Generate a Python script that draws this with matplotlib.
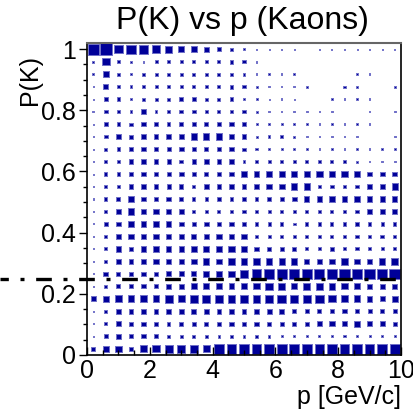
import numpy as np
import matplotlib
matplotlib.use("Agg")
import matplotlib.pyplot as plt
from matplotlib.patches import Rectangle
from matplotlib.collections import PatchCollection
import matplotlib.transforms as mtransforms

plt.rcParams['font.family'] = ['Liberation Sans', 'DejaVu Sans']

# histogram binning: 25 bins in p, 25 bins in P(K)
p_edges = np.linspace(0, 10, 26)
pk_edges = np.linspace(0, 1.02, 26)
cut_value = 0.25

# bin contents, rows listed from the top P(K) bin down to the bottom one
counts_top_down = [
    [847, 1008, 448, 567, 567, 448, 343, 252, 212, 142, 86, 44, 16, 7, 7, 7, 7, 0, 7, 7, 7, 7, 7, 7, 7],
    [16, 343, 44, 16, 16, 63, 63, 63, 63, 63, 63, 86, 63, 16, 0, 0, 0, 0, 0, 0, 0, 0, 0, 0, 0],
    [16, 212, 44, 16, 44, 63, 63, 63, 63, 63, 63, 63, 44, 16, 16, 16, 16, 0, 0, 0, 0, 16, 16, 0, 0],
    [7, 142, 63, 44, 63, 63, 63, 63, 63, 63, 63, 86, 63, 28, 16, 16, 16, 28, 0, 0, 28, 28, 0, 0, 28],
    [7, 112, 86, 28, 63, 63, 63, 86, 112, 63, 63, 86, 44, 28, 7, 16, 7, 0, 0, 28, 16, 16, 16, 0, 0],
    [16, 86, 86, 44, 175, 44, 63, 86, 86, 63, 63, 63, 63, 28, 16, 16, 16, 16, 16, 16, 0, 0, 16, 0, 16],
    [7, 86, 86, 63, 112, 142, 86, 112, 112, 86, 112, 142, 86, 28, 28, 28, 28, 16, 16, 16, 16, 16, 16, 0, 0],
    [7, 86, 175, 112, 142, 142, 142, 175, 252, 252, 252, 175, 142, 28, 44, 44, 28, 16, 16, 16, 16, 16, 0, 0, 16],
    [7, 63, 86, 112, 112, 112, 112, 142, 112, 112, 112, 142, 63, 44, 28, 28, 28, 28, 16, 16, 16, 16, 16, 16, 16],
    [7, 63, 63, 112, 112, 112, 112, 86, 112, 142, 112, 142, 44, 44, 63, 63, 63, 63, 86, 63, 63, 28, 16, 16, 16],
    [7, 63, 86, 112, 112, 112, 112, 142, 86, 86, 112, 112, 212, 212, 212, 252, 252, 252, 252, 252, 252, 175, 142, 142, 142],
    [7, 63, 63, 142, 112, 112, 112, 112, 63, 142, 142, 142, 142, 212, 212, 212, 252, 252, 86, 86, 86, 86, 142, 142, 252],
    [7, 63, 112, 212, 142, 142, 142, 112, 63, 63, 86, 86, 63, 63, 112, 112, 142, 175, 175, 175, 175, 212, 212, 175, 175],
    [7, 63, 142, 252, 175, 175, 142, 142, 63, 63, 63, 63, 63, 63, 63, 63, 63, 63, 63, 63, 63, 63, 142, 175, 175],
    [7, 86, 142, 212, 212, 175, 175, 142, 112, 142, 112, 112, 86, 63, 63, 63, 44, 63, 63, 63, 63, 63, 63, 63, 63],
    [7, 63, 142, 175, 175, 175, 175, 175, 175, 175, 212, 175, 175, 63, 63, 63, 63, 63, 63, 63, 63, 63, 63, 86, 63],
    [7, 63, 212, 142, 175, 175, 175, 175, 212, 212, 252, 252, 175, 112, 86, 112, 86, 63, 63, 86, 63, 63, 63, 63, 63],
    [7, 63, 175, 142, 175, 175, 175, 175, 212, 252, 212, 252, 252, 252, 252, 252, 252, 175, 175, 175, 252, 175, 212, 252, 343],
    [7, 142, 112, 142, 112, 112, 175, 175, 175, 212, 252, 252, 394, 567, 567, 632, 632, 700, 632, 632, 700, 700, 700, 700, 700],
    [7, 63, 112, 112, 112, 112, 175, 175, 212, 212, 212, 212, 252, 252, 343, 343, 252, 296, 296, 296, 252, 212, 175, 142, 142],
    [175, 252, 296, 296, 296, 296, 394, 343, 394, 394, 394, 394, 448, 394, 448, 448, 448, 448, 448, 343, 296, 296, 212, 175, 252],
    [7, 63, 175, 142, 142, 142, 142, 142, 142, 142, 142, 142, 142, 142, 175, 175, 112, 112, 112, 112, 112, 112, 112, 112, 86],
    [7, 63, 175, 112, 112, 112, 86, 112, 112, 112, 112, 112, 112, 112, 112, 112, 112, 112, 175, 175, 175, 212, 142, 142, 112],
    [7, 112, 142, 112, 112, 86, 63, 63, 63, 63, 44, 44, 44, 44, 44, 28, 28, 28, 28, 28, 28, 28, 28, 28, 28],
    [112, 252, 252, 112, 296, 343, 394, 394, 394, 343, 600, 600, 600, 600, 600, 600, 600, 600, 600, 600, 600, 600, 600, 600, 600],
]

counts = np.array(counts_top_down[::-1], dtype=float)  # row 0 = lowest P(K) bin

fig = plt.figure(figsize=(4.14, 4.13), dpi=100)
ax = fig.add_axes([87 / 414, 58 / 413, 314 / 414, 312 / 413])

# ROOT-like "box" drawing: box area proportional to bin content
dx = np.diff(p_edges)
dy = np.diff(pk_edges)
xc = 0.5 * (p_edges[:-1] + p_edges[1:])
yc = 0.5 * (pk_edges[:-1] + pk_edges[1:])
cmax = counts.max()
boxes = []
for j in range(counts.shape[0]):
    for i in range(counts.shape[1]):
        c = counts[j, i]
        if c <= 0:
            continue
        f = np.sqrt(c / cmax)
        w = f * dx[i]
        h = f * dy[j]
        boxes.append(Rectangle((xc[i] - w / 2, yc[j] - h / 2), w, h))
ax.add_collection(PatchCollection(boxes, facecolor='#000099',
                                  edgecolor='#7070c8', linewidth=0.7))

ax.set_xlim(p_edges[0], p_edges[-1])
ax.set_ylim(pk_edges[0], pk_edges[-1])

# dash-dotted cut line, running from the left edge of the canvas to the frame
trans = mtransforms.blended_transform_factory(fig.transFigure, ax.transData)
x_right = ax.get_position().x1
cut, = ax.plot([0, x_right], [cut_value, cut_value], transform=trans,
               color='black', lw=2.4, clip_on=False, solid_capstyle='butt')
cut.set_dash_capstyle('butt')
cut.set_linestyle((2.2, (4.7, 3.5, 1.2, 3.5)))

ax.set_xticks(np.arange(0, 10.1, 2))
ax.set_xticks(np.arange(0, 10.01, 0.5), minor=True)
ax.set_yticks(np.arange(0, 1.01, 0.2))
ax.set_yticks(np.arange(0, 1.001, 0.05), minor=True)
ax.set_yticklabels(['0', '0.2', '0.4', '0.6', '0.8', '1'])
ax.set_xticklabels(['0', '2', '4', '6', '8', '10'])

ax.tick_params(axis='x', which='major', direction='in', length=6, width=1, labelsize=18, pad=3)
ax.tick_params(axis='x', which='minor', direction='in', length=3.5, width=1)
ax.tick_params(axis='y', which='major', direction='out', length=6, width=1, labelsize=18, pad=2)
ax.tick_params(axis='y', which='minor', direction='out', length=3, width=1)

for side in ['left', 'bottom', 'right']:
    ax.spines[side].set_color('black')
    ax.spines[side].set_linewidth(1.2)
ax.spines['top'].set_color('#666666')
ax.spines['top'].set_linewidth(1.5)

fig.text(242 / 414, 1 - 21 / 413, 'P(K) vs p (Kaons)', ha='center', va='center', fontsize=23)
fig.text(30 / 414, 1 - 55 / 413, 'P(K)', ha='center', va='top', rotation=90, fontsize=18)
fig.text(401 / 414, 1 - 397 / 413, 'p [GeV/c]', ha='right', va='center', fontsize=18)

fig.savefig('out.png', dpi=100)
